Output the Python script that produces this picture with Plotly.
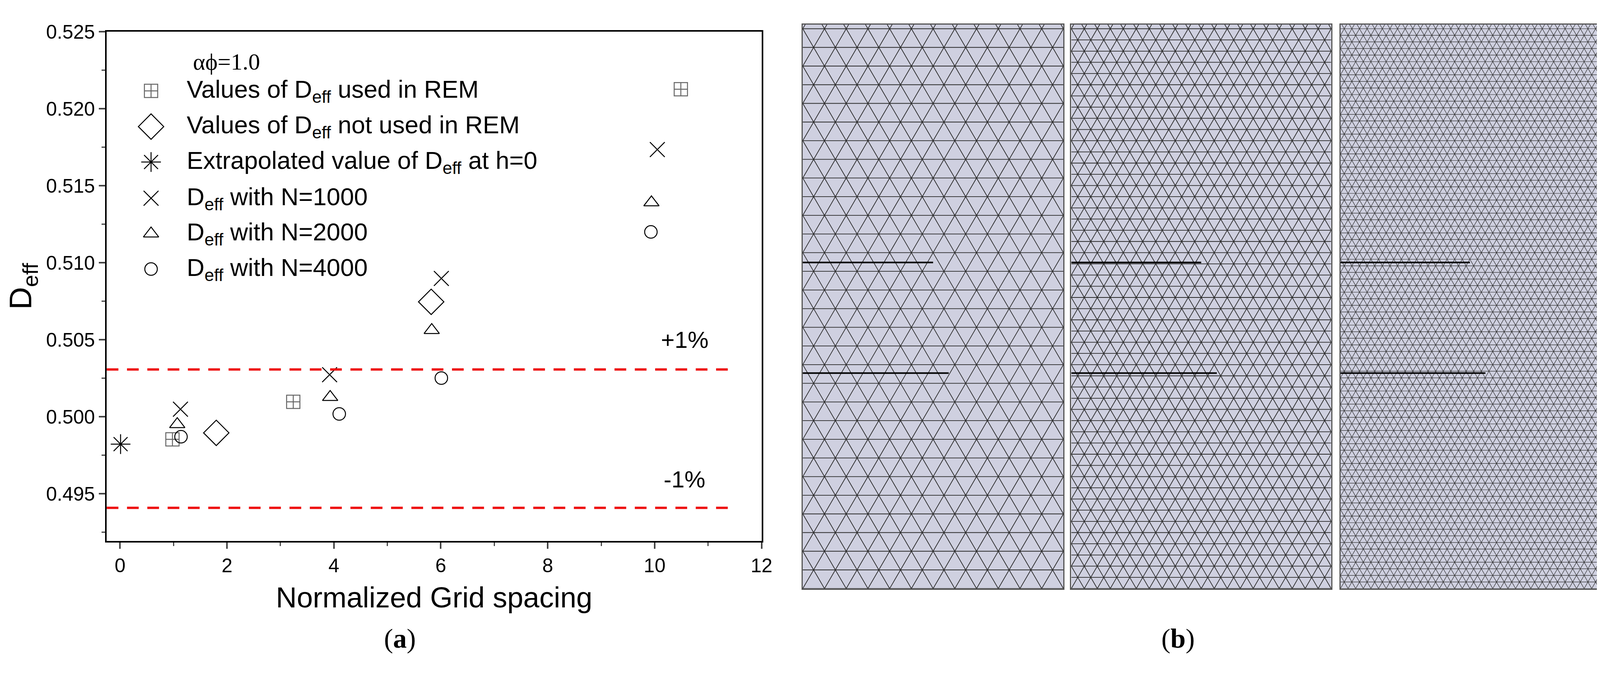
import plotly.graph_objects as go
import numpy as np

# ---- data ----
rem_used_x = [0.98, 3.24, 10.49]
rem_used_y = [0.49853, 0.50097, 0.52127]
rem_not_x = [1.80, 5.82]
rem_not_y = [0.49895, 0.50746]
extrap_x = [0.01]
extrap_y = [0.49822]
n1000_x = [1.13, 3.92, 6.01, 10.05]
n1000_y = [0.50049, 0.50273, 0.50898, 0.51735]
n2000_x = [1.07, 3.93, 5.83, 9.94]
n2000_y = [0.49951, 0.50127, 0.50562, 0.51391]
n4000_x = [1.14, 4.10, 6.01, 9.93]
n4000_y = [0.49870, 0.50018, 0.50251, 0.51200]
band_upper = 0.50307
band_lower = 0.49408
band_x = [-0.25, 11.5]
legend_names = ["Values of D<sub>eff</sub> used in REM",
                "Values of D<sub>eff</sub> not used in REM",
                "Extrapolated value of D<sub>eff</sub> at h=0",
                "D<sub>eff</sub> with N=1000",
                "D<sub>eff</sub> with N=2000",
                "D<sub>eff</sub> with N=4000"]
legend_rows_y = [0.52116, 0.51884, 0.51654, 0.51419, 0.51189, 0.50959]
mesh_cols = [12, 20, 34]
crack_y_frac = [0.422, 0.618]
crack_len = [0.50, 0.56]

FONT = "Liberation Sans"
fig = go.Figure()
annots = []

styles = [("square-cross-open", 34, "#666666"), ("diamond-open", 50, "black"),
          ("asterisk-open", 42, "black"), ("x-thin-open", 38, "black"),
          ("triangle-up-open", 34, "black"), ("circle-open", 32, "black")]
series = [(rem_used_x, rem_used_y), (rem_not_x, rem_not_y), (extrap_x, extrap_y),
          (n1000_x, n1000_y), (n2000_x, n2000_y), (n4000_x, n4000_y)]

for (sx, sy), (sym, size, col), name, ly in zip(series, styles, legend_names, legend_rows_y):
    mk = dict(symbol=sym, size=size, color=col, line=dict(width=2.5, color=col))
    fig.add_trace(go.Scatter(x=sx, y=sy, mode="markers", name=name, marker=mk, showlegend=False))
    fig.add_trace(go.Scatter(x=[0.58], y=[ly], mode="markers", marker=mk, showlegend=False,
                             hoverinfo="skip"))
    annots.append(dict(text=name, x=1.23, y=ly, xref="x", yref="y", showarrow=False,
                       xanchor="left", yanchor="middle", font=dict(size=63)))

for yv in [band_upper, band_lower]:
    fig.add_trace(go.Scatter(x=band_x, y=[yv, yv], mode="lines", showlegend=False,
                             line=dict(color="#ee1111", width=6, dash="30px,22px")))

# ---- mesh panels ----
H = 1466 / 672
doms = [[0.4988, 0.6614], [0.6663, 0.8284], [0.8342, 0.9957]]
for i, n in enumerate(mesh_cols):
    ax = i + 2
    h = 1.0 / n
    dy = h * np.sqrt(3) / 2
    nrows = int(H / dy) + 2
    xs, ys = [], []
    for r in range(nrows):
        off = 0 if r % 2 == 0 else h / 2
        y0 = r * dy
        xs += [0, 1, None]; ys += [y0, y0, None]
        for c in range(-1, n + 2):
            xa = c * h + off
            xs += [xa, xa + h / 2, None, xa, xa - h / 2, None]
            ys += [y0, y0 + dy, None, y0, y0 + dy, None]
    fig.add_trace(go.Scatter(x=xs, y=ys, mode="lines", showlegend=False, hoverinfo="skip",
                             line=dict(color="#2a2a2a", width=1.8 if n < 30 else 1.2),
                             xaxis=f"x{ax}", yaxis=f"y{ax}"))
    for cy, cl in zip(crack_y_frac, crack_len):
        yy = H * (1 - cy)
        fig.add_trace(go.Scatter(x=[0, cl], y=[yy, yy], mode="lines", showlegend=False,
                                 line=dict(color="black", width=4),
                                 xaxis=f"x{ax}", yaxis=f"y{ax}"))
    common = dict(showgrid=False, zeroline=False, showticklabels=False, ticks="",
                  showline=True, linecolor="#555", linewidth=3, mirror=True)
    fig.update_layout(**{
        f"xaxis{ax}": dict(domain=doms[i], range=[0, 1], anchor=f"y{ax}", **common),
        f"yaxis{ax}": dict(domain=[0.1374, 0.9838], range=[0, H], anchor=f"x{ax}", **common),
    })
    fig.add_shape(type="rect", xref=f"x{ax}", yref=f"y{ax}", x0=0, x1=1, y0=0, y1=H,
                  fillcolor="#cfd0e0", line=dict(width=0), layer="below")

annots += [
    dict(text="αϕ=1.0", x=1.35, y=0.52304, xref="x", yref="y", showarrow=False,
         xanchor="left", font=dict(family="Liberation Serif", size=60)),
    dict(text="+1%", x=10.56, y=0.50499, xref="x", yref="y", showarrow=False,
         font=dict(size=60)),
    dict(text="-1%", x=10.56, y=0.49592, xref="x", yref="y", showarrow=False,
         font=dict(size=60)),
    dict(text="(<b>a</b>)", x=0.237, y=0.039, xref="paper", yref="paper", showarrow=False,
         font=dict(family="Liberation Serif", size=70)),
    dict(text="(<b>b</b>)", x=0.744, y=0.039, xref="paper", yref="paper", showarrow=False,
         font=dict(family="Liberation Serif", size=70)),
]

fig.update_layout(
    width=4132, height=1732, margin=dict(l=0, r=0, t=0, b=0),
    paper_bgcolor="white", plot_bgcolor="white", showlegend=False,
    font=dict(family=FONT, color="black"),
    xaxis=dict(domain=[0.0646, 0.4731], range=[-0.25, 12], dtick=2, tick0=0,
               showgrid=False, zeroline=False, showline=True, linecolor="black", linewidth=4,
               mirror=True, ticks="outside", ticklen=16, tickwidth=4,
               minor=dict(dtick=1, ticks="outside", ticklen=9, tickwidth=3),
               tickfont=dict(size=50),
               title=dict(text="Normalized Grid spacing", font=dict(size=74), standoff=30)),
    yaxis=dict(domain=[0.2090, 0.9729], range=[0.49194, 0.525], dtick=0.005, tick0=0.495,
               tickformat=".3f", showgrid=False, zeroline=False, showline=True,
               linecolor="black", linewidth=4, mirror=True, ticks="outside", ticklen=16,
               tickwidth=4, minor=dict(dtick=0.0025, ticks="outside", ticklen=9, tickwidth=3),
               tickfont=dict(size=50),
               title=dict(text="D<sub>eff</sub>", font=dict(size=80), standoff=20)),
    annotations=annots,
)
fig.write_html("out.html")
